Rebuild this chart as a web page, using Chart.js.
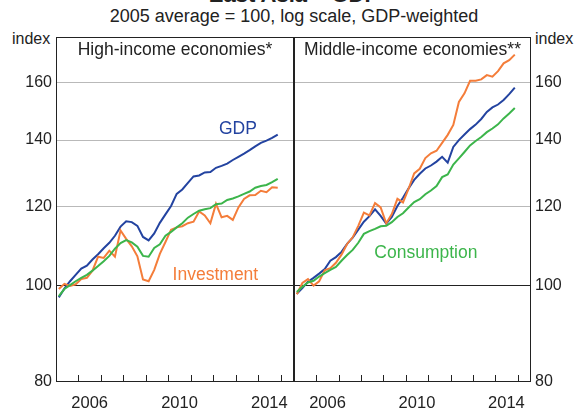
<!DOCTYPE html>
<html>
<head>
<meta charset="utf-8">
<script src="https://cdn.jsdelivr.net/npm/chart.js@4.4.0/dist/chart.umd.min.js"></script>
<style>
  body { margin: 0; background: #fff; }
  #wrap { position: relative; width: 588px; height: 408px; overflow: hidden; font-family: "Liberation Sans", Arial, sans-serif; color: #222; }
  #wrap canvas { position: absolute; top: 0; }
  .txt { position: absolute; white-space: nowrap; }
</style>
</head>
<body>
<div id="wrap">
  <div class="txt" style="left:0;width:588px;text-align:center;top:-18px;font-size:22px;font-weight:bold">East Asia – GDP</div>
  <div class="txt" style="left:0;width:588px;text-align:center;top:6px;font-size:18px">2005 average = 100, log scale, GDP-weighted</div>
  <div class="txt" style="left:12px;top:30px;font-size:16px">index</div>
  <div class="txt" style="left:535px;top:30px;font-size:16px">index</div>
  <canvas id="left" width="294" height="408" style="left:0"></canvas>
  <canvas id="right" width="294" height="408" style="left:294px"></canvas>
</div>
<script>
const quarters = [
  '2005Q1','2005Q2','2005Q3','2005Q4','2006Q1','2006Q2','2006Q3','2006Q4',
  '2007Q1','2007Q2','2007Q3','2007Q4','2008Q1','2008Q2','2008Q3','2008Q4',
  '2009Q1','2009Q2','2009Q3','2009Q4','2010Q1','2010Q2','2010Q3','2010Q4',
  '2011Q1','2011Q2','2011Q3','2011Q4','2012Q1','2012Q2','2012Q3','2012Q4',
  '2013Q1','2013Q2','2013Q3','2013Q4','2014Q1','2014Q2','2014Q3','2014Q4'
];
const yearLabels = [2006, 2010, 2014];
const yearMarks = [2006, 2007, 2008, 2009, 2010, 2011, 2012, 2013, 2014, 2015];
const yTicks = [80, 100, 120, 140, 160];

// High-income economies
const highGdp = [97.3, 99.3, 101.0, 102.5, 104.0, 104.7, 106.2, 107.5, 109.0, 110.4,
  112.2, 114.6, 116.0, 115.8, 114.8, 111.9, 111.0, 112.8, 115.6, 117.9,
  120.2, 123.6, 124.9, 126.8, 128.7, 129.0, 129.9, 130.0, 131.3, 131.9,
  132.6, 133.7, 134.7, 135.7, 136.8, 138.0, 139.1, 139.8, 140.7, 141.8];
const highConsumption = [97.6, 99.2, 100.1, 101.0, 101.8, 102.5, 103.5, 104.6, 105.8, 107.1,
  108.9, 110.3, 111.1, 110.5, 109.4, 107.1, 106.9, 109.1, 110.0, 112.2,
  113.2, 114.4, 115.5, 117.0, 118.0, 118.9, 119.3, 119.6, 120.7, 120.9,
  121.9, 122.3, 122.9, 123.6, 124.3, 125.4, 125.9, 126.2, 127.0, 128.0];
const highInvestment = [99.2, 100.4, 99.9, 100.3, 101.5, 101.8, 103.5, 106.9, 106.6, 108.4,
  106.9, 113.6, 111.4, 109.5, 107.0, 101.4, 101.0, 103.7, 107.6, 110.6,
  113.8, 114.4, 114.7, 115.5, 115.9, 118.7, 117.6, 115.5, 120.8, 117.1,
  117.5, 116.4, 119.8, 122.2, 123.2, 123.3, 124.5, 124.1, 125.5, 125.4];

// Middle-income economies
const midGdp = [98.1, 99.4, 100.9, 101.8, 102.8, 103.9, 105.9, 106.8, 108.1, 110.1,
  111.7, 113.8, 115.9, 117.4, 119.3, 117.5, 115.4, 117.2, 120.2, 122.5,
  125.2, 127.7, 129.5, 131.1, 132.0, 133.2, 134.7, 132.9, 137.8, 140.0,
  141.8, 143.6, 145.1, 147.0, 149.4, 151.0, 152.0, 153.6, 155.7, 158.1];
const midConsumption = [98.5, 99.7, 100.7, 101.1, 102.1, 102.9, 103.7, 104.4, 105.9, 107.3,
  108.6, 110.4, 112.7, 113.4, 114.0, 114.7, 114.8, 115.8, 117.2, 118.2,
  119.8, 121.3, 122.1, 123.5, 124.6, 125.9, 128.5, 129.3, 132.3, 134.2,
  136.2, 138.3, 139.7, 141.0, 142.6, 143.8, 145.2, 147.2, 148.9, 150.8];
const midInvestment = [98.0, 100.6, 101.5, 100.0, 101.0, 103.6, 104.1, 105.4, 107.4, 110.1,
  111.8, 114.8, 118.4, 117.6, 121.0, 119.8, 115.5, 118.0, 122.2, 121.2,
  125.1, 129.6, 131.0, 134.3, 135.8, 136.6, 139.1, 141.7, 145.0, 152.9,
  156.0, 160.6, 160.6, 161.1, 162.7, 162.1, 164.2, 167.2, 168.4, 170.6];

const BLUE = '#2343a0', ORANGE = '#f47d3a', GREEN = '#3cb54b';
const FONT = '"Liberation Sans", Arial, sans-serif';
Chart.defaults.font.family = FONT;
Chart.defaults.color = '#222';

function qToYear(q) {
  return +q.slice(0, 4) + (+q.slice(5) - 1) / 4 + 0.125;
}
function toPoints(values) {
  return values.map((v, i) => ({ x: qToYear(quarters[i]), y: v }));
}

const panelPlugin = {
  id: 'panel',
  afterDraw(chart, args, opts) {
    const { ctx, chartArea: a, scales: { x, y } } = chart;
    ctx.save();
    ctx.strokeStyle = '#222';
    ctx.lineWidth = 1;
    const L = Math.floor(a.left) + 0.5, R = Math.ceil(a.right) - 0.5;
    const T = Math.floor(a.top) + 0.5, B = Math.ceil(a.bottom) - 0.5;
    ctx.strokeRect(L, T, R - L, B - T);
    ctx.beginPath();
    yearMarks.forEach(yr => {
      const px = Math.round(x.getPixelForValue(yr)) + 0.5;
      ctx.moveTo(px, B);
      ctx.lineTo(px, B - 6.5);
    });
    ctx.stroke();
    ctx.fillStyle = '#222';
    ctx.font = '17.5px ' + FONT;
    ctx.textAlign = 'center';
    ctx.textBaseline = 'alphabetic';
    ctx.fillText(opts.title, (a.left + a.right) / 2, a.top + 18);
    ctx.textBaseline = 'middle';
    opts.labels.forEach(l => {
      ctx.fillStyle = l.color;
      ctx.fillText(l.text, x.getPixelForValue(l.x), y.getPixelForValue(l.y));
    });
    ctx.restore();
  }
};

function makePanel(id, side, title, gdp, consumption, investment, labels) {
  new Chart(document.getElementById(id), {
    type: 'line',
    data: {
      datasets: [
        { label: 'Consumption', data: toPoints(consumption), borderColor: GREEN },
        { label: 'Investment', data: toPoints(investment), borderColor: ORANGE },
        { label: 'GDP', data: toPoints(gdp), borderColor: BLUE }
      ]
    },
    options: {
      responsive: false,
      animation: false,
      layout: { padding: { top: 37, left: 0, right: 0, bottom: 0 } },
      elements: {
        line: { borderWidth: 2, tension: 0 },
        point: { radius: 0 }
      },
      plugins: {
        legend: { display: false },
        tooltip: { enabled: false },
        panel: { title: title, labels: labels }
      },
      scales: {
        x: {
          type: 'linear',
          min: 2005,
          max: 2015.6,
          afterBuildTicks: s => { s.ticks = yearLabels.map(v => ({ value: v + 0.5 })); },
          afterFit: s => { s.height = 26; },
          ticks: {
            font: { size: 16.5 },
            padding: 4,
            maxRotation: 0,
            autoSkip: false,
            callback: v => String(Math.floor(v))
          },
          grid: { display: false },
          border: { display: false }
        },
        y: {
          type: 'logarithmic',
          position: side,
          min: 80,
          max: 177.7,
          afterBuildTicks: s => { s.ticks = yTicks.map(v => ({ value: v })); },
          afterFit: s => { s.width = side === 'left' ? 56 : 57; },
          ticks: {
            font: { size: 16 },
            padding: 4,
            callback: v => String(v)
          },
          grid: {
            drawTicks: false,
            lineWidth: 1,
            color: c => c.tick.value === 100 ? '#222' : (c.tick.value === 80 ? 'rgba(0,0,0,0)' : '#b9b9b9')
          },
          border: { display: false }
        }
      }
    },
    plugins: [panelPlugin]
  });
}

makePanel('left', 'left', 'High-income economies*', highGdp, highConsumption, highInvestment, [
  { text: 'GDP', x: 2013.1, y: 143.7, color: BLUE },
  { text: 'Investment', x: 2012.1, y: 102.5, color: ORANGE }
]);
makePanel('right', 'right', 'Middle-income economies**', midGdp, midConsumption, midInvestment, [
  { text: 'Consumption', x: 2010.9, y: 107.7, color: GREEN }
]);
</script>
</body>
</html>
